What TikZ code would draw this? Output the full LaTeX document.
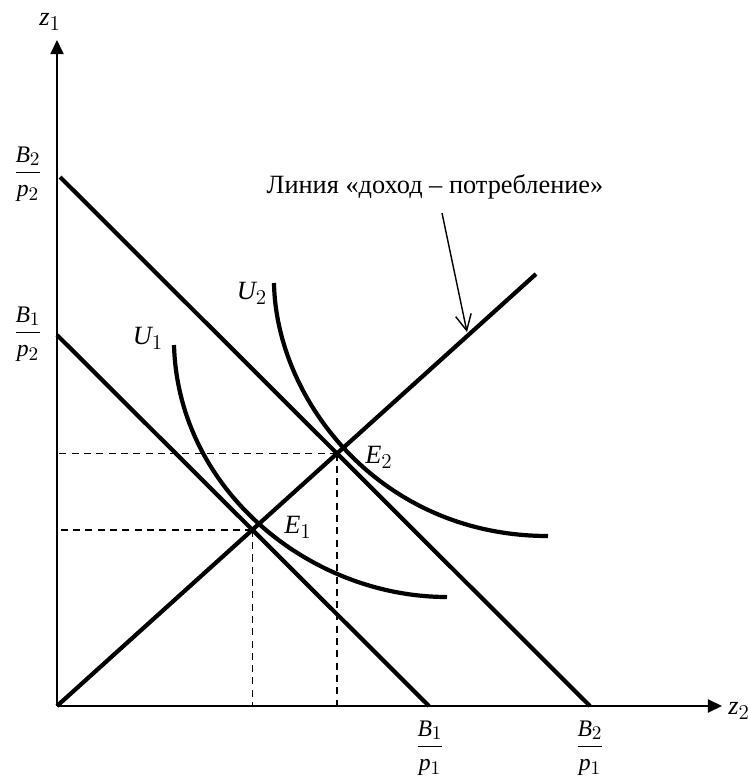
\documentclass[tikz,border=0pt]{standalone}
\usepackage{fontspec}
\setmainfont{Liberation Serif}
\usepackage{amsmath}
\usepackage[italic]{mathastext}
\usetikzlibrary{arrows,arrows.meta,positioning,calc}

\begin{document}
\begin{tikzpicture}[x=0.02cm,y=-0.02cm,font=\fontsize{15}{18}\selectfont,
  thickline/.style={line width=2.4pt},
  axisline/.style={-{Triangle[length=8pt,width=7.5pt]},line width=0.8pt},
  fraclab/.style={font=\fontsize{13.5}{15}\selectfont},
  guide/.style={line width=0.9pt,dash pattern=on 4pt off 3pt}]
  \useasboundingbox (0,0) rectangle (748,782);

  % оси
  \coordinate (O) at (57,706);
  \coordinate (ytop) at (57,40);
  \coordinate (xend) at (722,706);
  \draw[axisline] (O) -- (ytop);
  \draw[axisline] (O) -- (xend);
  \node (z1) at (50,22) {$z_1$};
  \node (z2) at (739,711) {$z_2$};

  % бюджетные линии
  \coordinate (b2top) at (60,177);
  \coordinate (b2bot) at (590,706);
  \coordinate (b1top) at (57,335);
  \coordinate (b1bot) at (429,706);
  \draw[thickline] (b2top) -- (b2bot);
  \draw[thickline] (b1top) -- (b1bot);
  \node[fraclab] (B2p2) at (28,174) {$\dfrac{B_2}{p_2}$};
  \node[fraclab] (B1p2) at (28,334) {$\dfrac{B_1}{p_2}$};
  \node[fraclab] (B1p1) at (430,748) {$\dfrac{B_1}{p_1}$};
  \node[fraclab] (B2p1) at (590,748) {$\dfrac{B_2}{p_1}$};

  % линия «доход -- потребление»
  \coordinate (icend) at (536,274);
  \draw[thickline] (O) -- (icend);
  \coordinate (E1) at (intersection of O--icend and b1top--b1bot);
  \coordinate (E2) at (intersection of O--icend and b2top--b2bot);

  % кривые безразличия
  \draw[thickline] (174,345) .. controls (178,490) and (310,597) .. (447,597);
  \draw[thickline] (274,283) .. controls (276,400) and (380,536) .. (548,536);
  \node (U1) at (148,338) {$U_1$};
  \node (U2) at (252,293) {$U_2$};
  \node (E1lab) at (298,527) {$E_1$};
  \node (E2lab) at (379,457) {$E_2$};

  % пунктир
  \draw[guide] (E1) -- (E1 -| O);
  \draw[guide] (E1) -- (E1 |- O);
  \draw[guide] (E2) -- (E2 -| O);
  \draw[guide] (E2) -- (E2 |- O);

  % подпись
  \node (iclabel) at (435,187) {Линия «доход – потребление»};
  \coordinate (arrstart) at (442,213);
  \coordinate (arrtip) at (467,332);
  \draw[line width=0.8pt,-{Straight Barb[length=9pt,width=9pt]}] (arrstart) -- (arrtip);
\end{tikzpicture}
\end{document}
